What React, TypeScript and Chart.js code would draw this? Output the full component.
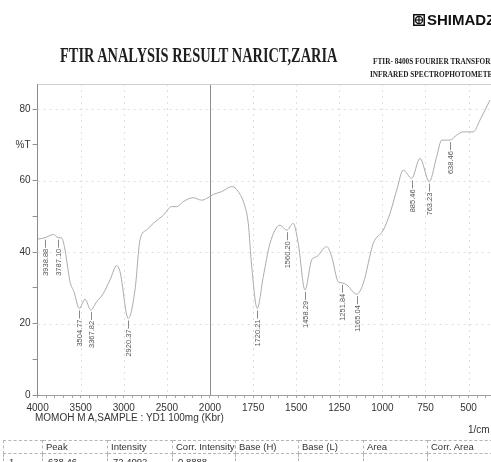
import React, { useEffect, useRef } from "react";
import { Chart, registerables } from "chart.js";

Chart.register(...registerables);

// Trace (wavenumber in 1/cm, transmittance in %T)
const WAVENUMBERS = [
  4000, 3914, 3818, 3760, 3720, 3682, 3624, 3578, 3516, 3450, 3384, 3314, 3238,
  3160, 3082, 3044, 2948, 2870, 2812, 2734, 2658, 2542, 2444, 2386, 2310, 2194,
  2096, 2038, 1981, 1932, 1874, 1836, 1797, 1778, 1758, 1726, 1691, 1652, 1594,
  1555, 1517, 1488, 1449, 1410, 1381, 1323, 1294, 1256, 1236, 1207, 1149, 1111,
  1053, 995, 956, 917, 879, 830, 782, 728, 685, 656, 608, 569, 531, 473, 434, 376,
];
const TRANSMITTANCE = [
  43.6, 44.0, 44.9, 44.0, 43.9, 40.6, 31.7, 28.9, 24.2, 26.8, 23.8, 26.1, 28.4,
  32.2, 36.2, 34.5, 21.4, 29.4, 43.4, 46.2, 48.0, 50.3, 52.7, 52.7, 54.1, 55.2,
  54.5, 55.0, 56.1, 56.9, 58.3, 56.9, 52.7, 48.0, 35.9, 24.2, 33.1, 42.4, 47.5,
  46.1, 48.0, 42.4, 29.4, 37.8, 38.7, 41.5, 38.7, 31.7, 31.4, 30.8, 28.2, 31.2,
  42.4, 46.1, 50.8, 57.3, 62.9, 60.6, 66.2, 59.7, 66.7, 71.3, 71.3, 72.7, 73.6,
  73.6, 76.9, 82.5,
];

// Peak annotations: printed label and the trace point it marks
const PEAK_LABELS = [
  "3938.88", "3787.10", "3504.77", "3367.82", "2920.37", "1720.21", "1560.20",
  "1458.29", "1251.84", "1165.04", "885.46", "763.23", "638.46",
];
const PEAK_AT = [3914, 3760, 3516, 3384, 2948, 1726, 1555, 1449, 1236, 1149, 830, 728, 608];

const X_TICK_LABELS = [4000, 3500, 3000, 2500, 2000, 1750, 1500, 1250, 1000, 750, 500];
const Y_TICK_LABELS = [0, 20, 40, 60, 80];
const Y_UNIT_LABEL = "%T";
const Y_UNIT_AT = 70;

const TABLE_HEADERS = ["", "Peak", "Intensity", "Corr. Intensity", "Base (H)", "Base (L)", "Area", "Corr. Area"];
const TABLE_ROW1 = ["1", "638.46", "72.4092", "0.8888", "", "", "", ""];
const TABLE_COL_WIDTHS = [39, 65, 65, 63, 63, 65, 64, 70];

// Shimadzu chart: 4000-2000 at half the scale of 2000-400
const toAxis = (w: number) => (w > 2000 ? 2000 + (w - 2000) / 2 : w);
const fromAxis = (u: number) => (u > 2000 ? 2000 + (u - 2000) * 2 : u);

const MAJOR_U = X_TICK_LABELS.map(toAxis);
const X_ALL_TICKS: { value: number; major?: boolean }[] = [];
for (let u = 3000; u >= 400; u -= 50) {
  X_ALL_TICKS.push({ value: u, major: MAJOR_U.includes(u) });
}
const Y_ALL_TICKS: { value: number }[] = [];
for (let v = 0; v <= 80; v += 10) Y_ALL_TICKS.push({ value: v });

const overlayPlugin = {
  id: "ftirOverlay",
  beforeDatasetsDraw(chart: any) {
    const { ctx, chartArea: a, scales } = chart;
    const x = scales.x;
    const y = scales.y;
    const seg = (x1: number, y1: number, x2: number, y2: number) => {
      ctx.beginPath();
      ctx.moveTo(x1, y1);
      ctx.lineTo(x2, y2);
      ctx.stroke();
    };
    ctx.save();
    ctx.lineWidth = 1;
    ctx.strokeStyle = "#dedede";
    ctx.setLineDash([2, 4]);
    Y_TICK_LABELS.filter((v) => v > 0).forEach((v) => {
      const py = Math.round(y.getPixelForValue(v)) + 0.5;
      seg(a.left, py, a.right, py);
    });
    X_TICK_LABELS.forEach((w) => {
      if (w === 4000 || w === 2000) return;
      const px = Math.round(x.getPixelForValue(toAxis(w))) + 0.5;
      seg(px, a.top, px, a.bottom);
    });
    ctx.setLineDash([]);
    ctx.strokeStyle = "#8c8c8c";
    const p2000 = Math.round(x.getPixelForValue(toAxis(2000))) + 0.5;
    seg(p2000, a.top, p2000, a.bottom);
    ctx.strokeStyle = "#cfcfcf";
    seg(a.left, Math.round(a.top) + 0.5, a.right, Math.round(a.top) + 0.5);
    ctx.restore();
  },
  afterDatasetsDraw(chart: any) {
    const { ctx, scales } = chart;
    const x = scales.x;
    const y = scales.y;
    ctx.save();
    ctx.strokeStyle = "#8a8a8a";
    ctx.fillStyle = "#555";
    ctx.lineWidth = 1;
    ctx.font = '7.5px "Liberation Sans", Arial, sans-serif';
    PEAK_LABELS.forEach((label, i) => {
      const w = PEAK_AT[i];
      const idx = WAVENUMBERS.indexOf(w);
      const t = TRANSMITTANCE[idx];
      const px = Math.round(x.getPixelForValue(toAxis(w))) + 0.5;
      const py = y.getPixelForValue(t);
      ctx.beginPath();
      ctx.moveTo(px, py + 2);
      ctx.lineTo(px, py + 10);
      ctx.stroke();
      ctx.save();
      ctx.translate(px, py + 11);
      ctx.rotate(-Math.PI / 2);
      ctx.textAlign = "right";
      ctx.textBaseline = "middle";
      ctx.fillText(label, 0, 0);
      ctx.restore();
    });
    ctx.restore();
  },
};

export default function App() {
  const canvasRef = useRef<HTMLCanvasElement | null>(null);

  useEffect(() => {
    if (!canvasRef.current) return;
    Chart.defaults.font.family = '"Liberation Sans", Arial, sans-serif';
    const chart = new Chart(canvasRef.current, {
      type: "line",
      data: {
        datasets: [
          {
            data: WAVENUMBERS.map((w, i) => ({ x: toAxis(w), y: TRANSMITTANCE[i] })),
            borderColor: "#ababab",
            borderWidth: 1,
            pointRadius: 0,
            fill: false,
            cubicInterpolationMode: "monotone",
          },
        ],
      },
      options: {
        responsive: false,
        animation: false,
        events: [],
        layout: { padding: { top: 84, left: 0, right: 0, bottom: 0 } },
        plugins: { legend: { display: false }, tooltip: { enabled: false }, title: { display: false } },
        scales: {
          x: {
            type: "linear",
            reverse: true,
            min: 370,
            max: 3000,
            afterBuildTicks: (s: any) => {
              s.ticks = X_ALL_TICKS.map((t) => ({ ...t }));
            },
            afterFit: (s: any) => {
              s.height = 67;
            },
            ticks: {
              autoSkip: false,
              maxRotation: 0,
              minRotation: 0,
              padding: 4,
              color: "#333",
              font: { size: 10 },
              callback: (v: any) => (MAJOR_U.includes(Number(v)) ? String(fromAxis(Number(v))) : ""),
            },
            grid: { drawOnChartArea: false, tickLength: 3, tickColor: "#a8a8a8" },
            border: { color: "#a0a0a0" },
          },
          y: {
            type: "linear",
            min: 0,
            max: 87,
            afterBuildTicks: (s: any) => {
              s.ticks = Y_ALL_TICKS.map((t) => ({ ...t }));
            },
            afterFit: (s: any) => {
              s.width = 37.6;
            },
            ticks: {
              autoSkip: false,
              padding: 2,
              color: "#333",
              font: { size: 10 },
              callback: (v: any) => {
                const n = Number(v);
                if (Y_TICK_LABELS.includes(n)) return String(n);
                if (n === Y_UNIT_AT) return Y_UNIT_LABEL;
                return "";
              },
            },
            grid: { drawOnChartArea: false, tickLength: 5, tickColor: "#909090" },
            border: { color: "#8a8a8a" },
          },
        },
      },
      plugins: [overlayPlugin],
    } as any);
    return () => chart.destroy();
  }, []);

  const cellBorder = "1px dashed #b5b5b5";

  return (
    <div
      style={{
        position: "absolute",
        left: 0,
        top: 0,
        width: 491,
        height: 462,
        overflow: "hidden",
        background: "#fff",
        color: "#222",
      }}
    >
      <canvas ref={canvasRef} width={491} height={462} style={{ position: "absolute", left: 0, top: 0 }} />

      <svg
        width={12}
        height={12}
        viewBox="0 0 12 12"
        style={{ position: "absolute", left: 413, top: 14 }}
      >
        <rect x={0.75} y={0.75} width={10.5} height={10.5} fill="none" stroke="#111" strokeWidth={1.5} />
        <circle cx={6} cy={6} r={3.6} fill="none" stroke="#111" strokeWidth={1.3} />
        <line x1={6} y1={2.4} x2={6} y2={9.6} stroke="#111" strokeWidth={1.2} />
        <line x1={2.4} y1={6} x2={9.6} y2={6} stroke="#111" strokeWidth={1.2} />
      </svg>
      <div
        style={{
          position: "absolute",
          left: 427,
          top: 12,
          font: 'bold 15px "Liberation Sans", Arial, sans-serif',
          lineHeight: "15px",
          whiteSpace: "nowrap",
          color: "#111",
        }}
      >
        SHIMADZU
      </div>

      <div
        style={{
          position: "absolute",
          left: 60,
          top: 44,
          font: 'bold 22px "Liberation Serif", "Times New Roman", serif',
          lineHeight: "22px",
          whiteSpace: "nowrap",
          transform: "scaleX(0.654)",
          transformOrigin: "left top",
          color: "#1e1e1e",
        }}
      >
        FTIR ANALYSIS RESULT NARICT,ZARIA
      </div>

      <div
        style={{
          position: "absolute",
          left: 373,
          top: 57,
          font: 'bold 9px "Liberation Serif", "Times New Roman", serif',
          lineHeight: "9px",
          whiteSpace: "nowrap",
          transform: "scaleX(0.81)",
          transformOrigin: "left top",
          color: "#222",
        }}
      >
        FTIR- 8400S FOURIER TRANSFORM
      </div>
      <div
        style={{
          position: "absolute",
          left: 370,
          top: 70,
          font: 'bold 9px "Liberation Serif", "Times New Roman", serif',
          lineHeight: "9px",
          whiteSpace: "nowrap",
          transform: "scaleX(0.81)",
          transformOrigin: "left top",
          color: "#222",
        }}
      >
        INFRARED SPECTROPHOTOMETER
      </div>

      <div
        style={{
          position: "absolute",
          left: 35,
          top: 413,
          font: '10px "Liberation Sans", Arial, sans-serif',
          lineHeight: "10px",
          whiteSpace: "nowrap",
          color: "#333",
        }}
      >
        MOMOH M A,SAMPLE : YD1 100mg (Kbr)
      </div>
      <div
        style={{
          position: "absolute",
          left: 468,
          top: 425,
          font: '10px "Liberation Sans", Arial, sans-serif',
          lineHeight: "10px",
          whiteSpace: "nowrap",
          color: "#333",
        }}
      >
        1/cm
      </div>

      <table
        style={{
          position: "absolute",
          left: 3,
          top: 440,
          borderCollapse: "collapse",
          tableLayout: "fixed",
          width: TABLE_COL_WIDTHS.reduce((s, v) => s + v, 0),
          font: '9.5px "Liberation Sans", Arial, sans-serif',
          color: "#333",
        }}
      >
        <colgroup>
          {TABLE_COL_WIDTHS.map((w, i) => (
            <col key={i} style={{ width: w }} />
          ))}
        </colgroup>
        <tbody>
          <tr style={{ height: 13 }}>
            {TABLE_HEADERS.map((h, i) => (
              <td
                key={i}
                style={{ border: cellBorder, padding: "0 0 0 3px", lineHeight: "12px", whiteSpace: "nowrap", overflow: "visible" }}
              >
                {h}
              </td>
            ))}
          </tr>
          <tr style={{ height: 13 }}>
            {TABLE_ROW1.map((c, i) => (
              <td
                key={i}
                style={{ border: cellBorder, padding: "2px 0 0 5px", lineHeight: "12px", whiteSpace: "nowrap", overflow: "visible" }}
              >
                {c}
              </td>
            ))}
          </tr>
        </tbody>
      </table>
    </div>
  );
}
